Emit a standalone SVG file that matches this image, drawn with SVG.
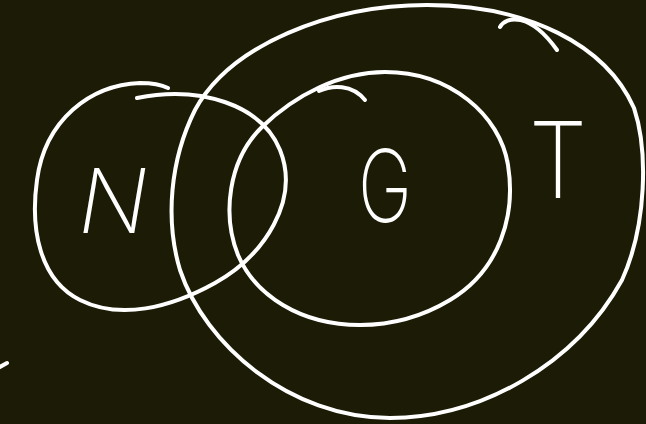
<svg xmlns="http://www.w3.org/2000/svg" width="646" height="424" viewBox="0 0 646 424">
<defs>
<style>
.bg{fill:#1c1b05}
.ink{fill:none;stroke:#ffffff;stroke-width:4;stroke-linecap:round;stroke-linejoin:round}
.lbl{fill:#ffffff;font-family:"Inter","DejaVu Sans",sans-serif;font-weight:200}
</style>
</defs>
<rect class="bg" x="0" y="0" width="646" height="424"/>
<g id="node-T">
<path class="ink" d="M427,5 C528,5 606,45 634,108 C648,150 647,225 622,280 C575,365 480,418 390,418 C290,418 205,345 180,270 C165,220 170,160 195,110 C230,45 330,5 427,5 Z"/>
<path class="ink" d="M500,27 C506,16 530,12 557,50"/>
<text class="lbl" x="529" y="198" font-size="106" textLength="58" lengthAdjust="spacingAndGlyphs">T</text>
</g>
<g id="node-G">
<path class="ink" d="M385,72 C450,72 500,115 508,165 C516,215 500,270 450,300 C420,318 390,325 360,325 C300,325 255,295 238,255 C222,215 228,160 262,127 C295,95 340,72 385,72 Z"/>
<path class="ink" d="M319,91 C332,85 352,84 365,100"/>
<text class="lbl" x="358" y="222" font-size="100" textLength="54" lengthAdjust="spacingAndGlyphs">G</text>
</g>
<g id="node-N">
<path class="ink" d="M137,98 C200,85 262,105 280,150 C300,200 265,255 215,283 C170,308 120,320 80,300 C40,280 30,230 37,180 C45,120 90,85 140,83 C152,83 162,85 168,88"/>
<text class="lbl" x="78" y="233" font-size="90" font-style="italic" textLength="70" lengthAdjust="spacingAndGlyphs">N</text>
</g>
<g id="mark">
<path class="ink" d="M-2,368 L7,363"/>
</g>
</svg>
